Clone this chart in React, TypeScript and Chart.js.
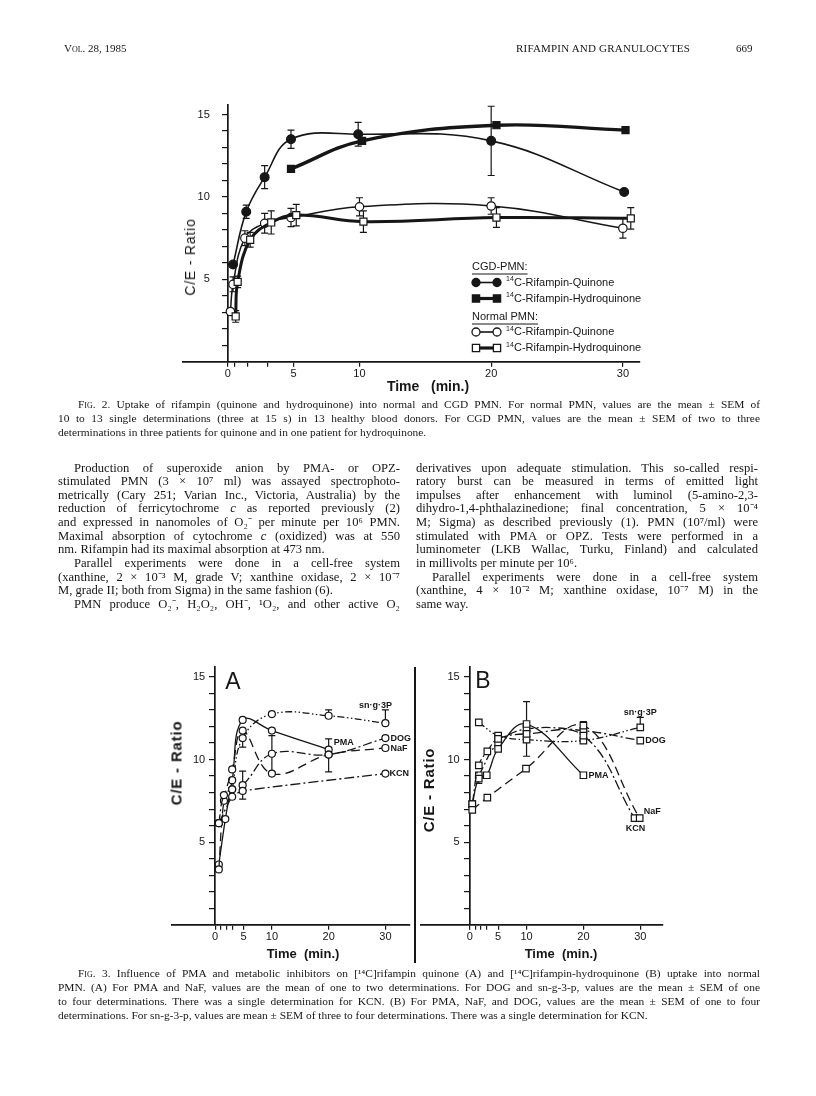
import React, { useEffect, useRef } from 'react';
import { Chart, registerables } from 'chart.js';
Chart.register(...registerables);

const INK = '#161616';
const SANS = '"Liberation Sans", Arial, sans-serif';
const SERIF = '"Liberation Serif", "Times New Roman", serif';

// ---------------- FIG. 2 data ----------------
const F2_CGD_Q_T = [0.4, 1.4, 2.8, 4.8, 9.9, 20, 30.1];
const F2_CGD_Q_V = [5.9, 9.1, 11.2, 13.5, 13.8, 13.4, 10.3];
const F2_CGD_Q_E = [0, 0.4, 0.7, 0.55, 0.72, 2.1, 0];
const F2_CGD_H_T = [4.8, 10.2, 20.4, 30.2];
const F2_CGD_H_V = [11.7, 13.4, 14.35, 14.05];
const F2_NOR_Q_T = [0.2, 0.4, 1.3, 2.8, 4.8, 10, 20, 30];
const F2_NOR_Q_V = [3.05, 4.7, 7.5, 8.4, 8.75, 9.4, 9.45, 8.1];
const F2_NOR_Q_E = [0, 0.45, 0.45, 0.6, 0.55, 0.55, 0.5, 0.6];
const F2_NOR_H_T = [0.6, 0.75, 1.7, 3.3, 5.2, 10.3, 20.4, 30.6];
const F2_NOR_H_V = [2.75, 4.85, 7.4, 8.45, 8.9, 8.5, 8.75, 8.7];
const F2_NOR_H_E = [0.35, 0.35, 0.45, 0.7, 0.65, 0.65, 0.6, 0.65];

const F2_X_TICKS = [0, 0.5, 1.5, 3, 5, 10, 20, 30];
const F3_X_TICKS = [0, 1, 2, 3, 5, 10, 20, 30];
const X_LABELED = [0, 5, 10, 20, 30];
const Y_TICKS = [1, 2, 3, 4, 5, 6, 7, 8, 9, 10, 11, 12, 13, 14, 15];
const Y_LABELED = [5, 10, 15];

// ---------------- FIG. 3A data (quinone) ----------------
const A_PMA_T = [0.65, 1.8, 3.0, 4.85, 10, 20];
const A_PMA_V = [3.65, 6.4, 8.75, 12.4, 11.75, 10.6];
const A_PMA_E: any[] = [0, 0, 0, 0, 0, [0, 0.65]];
const A_NAF_T = [0.65, 1.55, 3.0, 4.85, 10, 20, 30];
const A_NAF_V = [3.35, 7.5, 9.4, 11.75, 9.15, 10.3, 10.7];
const A_DOG_T = [0.65, 1.55, 3.0, 4.85, 10, 20, 30];
const A_DOG_V = [6.15, 7.85, 8.2, 8.45, 10.35, 10.3, 11.3];
const A_DOG_E: any[] = [0, 0, 0, 0.85, 1.1, [1.05, 0], 0];
const A_KCN_T = [0.65, 3.0, 4.85, 30];
const A_KCN_V = [6.15, 7.75, 8.1, 9.15];
const A_SN_T = [3.0, 4.85, 10, 20, 30];
const A_SN_V = [8.2, 11.3, 12.75, 12.65, 12.2];
const A_SN_E: any[] = [0, [0.55, 0], 0, [0, 0.35], [0, 0.8]];

// ---------------- FIG. 3B data (hydroquinone) ----------------
const B_PMA_T = [0.45, 1.6, 3.0, 5, 10, 20];
const B_PMA_V = [7.3, 8.85, 9.05, 10.65, 12.15, 9.05];
const B_PMA_E: any[] = [0, [0.3, 0], 0, 0, 0, 0];
const B_NAF_T = [0.45, 3.1, 9.9, 20, 29.9];
const B_NAF_V = [6.95, 7.7, 9.45, 12.05, 6.45];
const B_KCN_T = [0.45, 1.6, 3.1, 5, 10, 20, 29];
const B_KCN_V = [7.3, 9.65, 10.5, 11.25, 11.55, 11.45, 6.45];
const B_DOG_T = [1.6, 5, 10, 20, 30];
const B_DOG_V = [9.05, 11.0, 11.85, 11.75, 11.15];
const B_DOG_E: any[] = [0, 0, 1.65, 0.55, 0];
const B_SN_T = [1.6, 5, 10, 20, 30];
const B_SN_V = [12.25, 11.45, 11.2, 11.15, 11.95];
const B_SN_E: any[] = [0, 0, 0, 0, [0, 0.6]];

// ---------------- text ----------------
const FIG2_CAPTION = [
  'Fig. 2. Uptake of rifampin (quinone and hydroquinone) into normal and CGD PMN. For normal PMN, values are the mean ± SEM of',
  '10 to 13 single determinations (three at 15 s) in 13 healthy blood donors. For CGD PMN, values are the mean ± SEM of two to three',
  '.determinations in three patients for quinone and in one patient for hydroquinone.',
];
const LEFT_COL = [
  '>Production of superoxide anion by PMA- or OPZ-',
  'stimulated PMN (3 × 10⁷ ml) was assayed spectrophoto-',
  'metrically (Cary 251; Varian Inc., Victoria, Australia) by the',
  'reduction of ferricytochrome _c_ as reported previously (2)',
  'and expressed in nanomoles of O₂⁻ per minute per 10⁶ PMN.',
  'Maximal absorption of cytochrome _c_ (oxidized) was at 550',
  '.nm. Rifampin had its maximal absorption at 473 nm.',
  '>Parallel experiments were done in a cell-free system',
  '(xanthine, 2 × 10⁻³ M, grade V; xanthine oxidase, 2 × 10⁻⁷',
  '.M, grade II; both from Sigma) in the same fashion (6).',
  '>PMN produce O₂⁻, H₂O₂, OH⁻, ¹O₂, and other active O₂',
];
const RIGHT_COL = [
  'derivatives upon adequate stimulation. This so-called respi-',
  'ratory burst can be measured in terms of emitted light',
  'impulses after enhancement with luminol (5-amino-2,3-',
  'dihydro-1,4-phthalazinedione; final concentration, 5 × 10⁻⁴',
  'M; Sigma) as described previously (1). PMN (10⁷/ml) were',
  'stimulated with PMA or OPZ. Tests were performed in a',
  'luminometer (LKB Wallac, Turku, Finland) and calculated',
  '.in millivolts per minute per 10⁶.',
  '>Parallel experiments were done in a cell-free system',
  '(xanthine, 4 × 10⁻² M; xanthine oxidase, 10⁻⁷ M) in the',
  '.same way.',
];
const FIG3_CAPTION = [
  'Fig. 3. Influence of PMA and metabolic inhibitors on [¹⁴C]rifampin quinone (A) and [¹⁴C]rifampin-hydroquinone (B) uptake into normal',
  'PMN. (A) For PMA and NaF, values are the mean of one to two determinations. For DOG and sn-g-3-p, values are the mean ± SEM of one',
  'to four determinations. There was a single determination for KCN. (B) For PMA, NaF, and DOG, values are the mean ± SEM of one to four',
  '.determinations. For sn-g-3-p, values are mean ± SEM of three to four determinations. There was a single determination for KCN.',
];

// ---------------- plugins ----------------
const errPlugin = {
  id: 'errbars',
  beforeDatasetsDraw(chart: any) {
    const { ctx } = chart;
    const x = chart.scales.x, y = chart.scales.y;
    ctx.save();
    ctx.strokeStyle = INK;
    ctx.lineWidth = 1.2;
    chart.data.datasets.forEach((ds: any) => {
      if (!ds.errors) return;
      ds.data.forEach((p: any, i: number) => {
        const e = ds.errors[i];
        if (!e) return;
        const dn = Array.isArray(e) ? e[0] : e;
        const up = Array.isArray(e) ? e[1] : e;
        const px = x.getPixelForValue(p.x);
        const yt = y.getPixelForValue(p.y + up);
        const yb = y.getPixelForValue(p.y - dn);
        ctx.beginPath();
        ctx.moveTo(px, yt);
        ctx.lineTo(px, yb);
        if (up > 0) { ctx.moveTo(px - 3.5, yt); ctx.lineTo(px + 3.5, yt); }
        if (dn > 0) { ctx.moveTo(px - 3.5, yb); ctx.lineTo(px + 3.5, yb); }
        ctx.stroke();
      });
    });
    ctx.restore();
  },
};

const endLabelPlugin = {
  id: 'endlabels',
  afterDatasetsDraw(chart: any) {
    const { ctx } = chart;
    const x = chart.scales.x, y = chart.scales.y;
    chart.data.datasets.forEach((ds: any) => {
      const L = ds.endLabel;
      if (!L) return;
      const p = ds.data[ds.data.length - 1];
      ctx.save();
      ctx.font = `bold 9px ${SANS}`;
      ctx.fillStyle = INK;
      ctx.textAlign = L.align;
      ctx.textBaseline = 'middle';
      ctx.fillText(L.text, x.getPixelForValue(p.x) + L.dx, y.getPixelForValue(p.y) + L.dy);
      ctx.restore();
    });
  },
};

// y tick labels, drawn left of the y axis (which sits at x = 0)
function yLabelPlugin(gap: number) {
  return {
    id: 'ylabels',
    afterDraw(chart: any) {
      const { ctx } = chart;
      const x = chart.scales.x, y = chart.scales.y;
      const px = x.getPixelForValue(0) - gap;
      ctx.save();
      ctx.font = `11px ${SANS}`;
      ctx.fillStyle = INK;
      ctx.textAlign = 'right';
      ctx.textBaseline = 'middle';
      Y_LABELED.forEach((v) => ctx.fillText(String(v), px, y.getPixelForValue(v)));
      ctx.restore();
    },
  };
}

function drawMarker(ctx: any, kind: string, x: number, y: number) {
  ctx.beginPath();
  if (kind.includes('circle')) ctx.arc(x, y, 4, 0, Math.PI * 2);
  else ctx.rect(x - 3.6, y - 3.6, 7.2, 7.2);
  ctx.fillStyle = kind.startsWith('filled') ? INK : '#fff';
  ctx.fill();
  ctx.lineWidth = 1.3;
  ctx.strokeStyle = INK;
  ctx.stroke();
}

const F2_LEGEND = [
  { head: 'CGD-PMN:' },
  { kind: 'filled-circle', width: 1.6, text: 'C-Rifampin-Quinone' },
  { kind: 'filled-rect', width: 3.2, text: 'C-Rifampin-Hydroquinone' },
  { head: 'Normal PMN:' },
  { kind: 'open-circle', width: 1.6, text: 'C-Rifampin-Quinone' },
  { kind: 'open-rect', width: 3.2, text: 'C-Rifampin-Hydroquinone' },
];
const F2_LEGEND_ROWS = [0, 15.5, 31.5, 50, 65, 81];

function legendPlugin(ox: number, oy: number) {
  return {
    id: 'f2legend',
    afterDraw(chart: any) {
      const { ctx } = chart;
      ctx.save();
      ctx.textBaseline = 'middle';
      F2_LEGEND.forEach((it: any, i: number) => {
        const y = oy + F2_LEGEND_ROWS[i];
        if (it.head) {
          ctx.font = `11px ${SANS}`;
          ctx.fillStyle = INK;
          ctx.textAlign = 'left';
          ctx.fillText(it.head, ox, y);
          const w = ctx.measureText(it.head).width;
          ctx.beginPath();
          ctx.lineWidth = 1;
          ctx.strokeStyle = INK;
          ctx.moveTo(ox, y + 7);
          ctx.lineTo(ox + w, y + 7);
          ctx.stroke();
        } else {
          const x0 = ox + 4, x1 = ox + 25;
          ctx.beginPath();
          ctx.lineWidth = it.width;
          ctx.strokeStyle = INK;
          ctx.moveTo(x0, y);
          ctx.lineTo(x1, y);
          ctx.stroke();
          drawMarker(ctx, it.kind, x0, y);
          drawMarker(ctx, it.kind, x1, y);
          ctx.fillStyle = INK;
          ctx.textAlign = 'left';
          ctx.font = `7px ${SANS}`;
          ctx.fillText('14', ox + 34, y - 3);
          ctx.font = `11px ${SANS}`;
          ctx.fillText(it.text, ox + 42, y);
        }
      });
      ctx.restore();
    },
  };
}

// ---------------- helpers ----------------
function series(T: number[], V: number[], opts: any) {
  return {
    data: T.map((t, i) => ({ x: t, y: V[i] })),
    fill: false,
    tension: 0.4,
    borderColor: INK,
    pointBorderColor: INK,
    pointBorderWidth: 1.2,
    pointBackgroundColor: '#fff',
    ...opts,
  };
}

function makeOptions(xmin: number, xmax: number, xTicks: number[], pad: any) {
  return {
    animation: false,
    responsive: false,
    maintainAspectRatio: false,
    events: [],
    layout: { padding: pad },
    plugins: { legend: { display: false }, tooltip: { enabled: false } },
    scales: {
      x: {
        type: 'linear',
        min: xmin,
        max: xmax,
        position: 'bottom',
        afterBuildTicks: (s: any) => { s.ticks = xTicks.map((v) => ({ value: v })); },
        ticks: {
          autoSkip: false,
          maxRotation: 0,
          padding: 1,
          color: INK,
          font: { family: SANS, size: 11 },
          callback: (v: any) => (X_LABELED.includes(v) ? String(v) : ''),
        },
        grid: { drawOnChartArea: false, drawTicks: true, tickLength: 5, color: INK, lineWidth: 1.2 },
        border: { display: true, color: INK, width: 1.7 },
      },
      y: {
        type: 'linear',
        min: 0,
        max: 15.6,
        position: { x: 0 },
        afterBuildTicks: (s: any) => { s.ticks = Y_TICKS.map((v) => ({ value: v })); },
        ticks: {
          autoSkip: false,
          padding: 0,
          color: INK,
          font: { family: SANS, size: 11 },
          callback: () => '',
        },
        grid: { drawOnChartArea: false, drawTicks: true, tickLength: 5, color: INK, lineWidth: 1.2 },
        border: { display: true, color: INK, width: 1.7 },
      },
    },
  };
}

const F2_BOX = { left: 170, top: 98, width: 480, height: 284 };
const A_BOX = { left: 150, top: 655, width: 265, height: 290 };
const B_BOX = { left: 415, top: 655, width: 265, height: 290 };

function fig2Config() {
  return {
    type: 'line',
    data: {
      datasets: [
        series(F2_NOR_H_T, F2_NOR_H_V, { borderWidth: 3, pointStyle: 'rect', pointRadius: 5, errors: F2_NOR_H_E }),
        series(F2_NOR_Q_T, F2_NOR_Q_V, { borderWidth: 1.5, pointStyle: 'circle', pointRadius: 4.2, errors: F2_NOR_Q_E }),
        series(F2_CGD_H_T, F2_CGD_H_V, { borderWidth: 3.4, pointStyle: 'rect', pointRadius: 5, pointBackgroundColor: INK }),
        series(F2_CGD_Q_T, F2_CGD_Q_V, { borderWidth: 1.6, pointStyle: 'circle', pointRadius: 4.4, pointBackgroundColor: INK, errors: F2_CGD_Q_E }),
      ],
    },
    options: makeOptions(-3.4, 31.3, F2_X_TICKS, { left: 13, right: 10, top: 5, bottom: 0 }),
    plugins: [errPlugin, yLabelPlugin(18), legendPlugin(472 - F2_BOX.left, 267 - F2_BOX.top)],
  };
}

const LS = {
  PMA: [] as number[],
  NAF: [9, 5],
  DOG: [9, 3, 2, 3],
  KCN: [10, 3, 2, 3],
  SN: [7, 2.5, 1.5, 2.5, 1.5, 2.5],
};

function fig3AConfig() {
  const c = { borderWidth: 1.3, pointStyle: 'circle', pointRadius: 3.5 };
  return {
    type: 'line',
    data: {
      datasets: [
        series(A_KCN_T, A_KCN_V, { ...c, borderDash: LS.KCN, tension: 0.2, endLabel: { text: 'KCN', dx: 4, dy: 0, align: 'left' } }),
        series(A_DOG_T, A_DOG_V, { ...c, borderDash: LS.DOG, errors: A_DOG_E, endLabel: { text: 'DOG', dx: 5, dy: 0, align: 'left' } }),
        series(A_NAF_T, A_NAF_V, { ...c, borderDash: LS.NAF, endLabel: { text: 'NaF', dx: 5, dy: 1, align: 'left' } }),
        series(A_PMA_T, A_PMA_V, { ...c, borderDash: LS.PMA, errors: A_PMA_E, endLabel: { text: 'PMA', dx: 5, dy: -7, align: 'left' } }),
        series(A_SN_T, A_SN_V, { ...c, borderDash: LS.SN, errors: A_SN_E, endLabel: { text: 'sn·g·3P', dx: -10, dy: -18, align: 'center' } }),
      ],
    },
    options: makeOptions(-7.6, 34.3, F3_X_TICKS, { left: 22, right: 0, top: 12, bottom: 0 }),
    plugins: [errPlugin, endLabelPlugin, yLabelPlugin(10)],
  };
}

function fig3BConfig() {
  const c = { borderWidth: 1.3, pointStyle: 'rect', pointRadius: 4.6 };
  return {
    type: 'line',
    data: {
      datasets: [
        series(B_NAF_T, B_NAF_V, { ...c, borderDash: LS.NAF, endLabel: { text: 'NaF', dx: 4, dy: -7, align: 'left' } }),
        series(B_KCN_T, B_KCN_V, { ...c, borderDash: LS.KCN, endLabel: { text: 'KCN', dx: 1, dy: 10, align: 'center' } }),
        series(B_PMA_T, B_PMA_V, { ...c, borderDash: LS.PMA, errors: B_PMA_E, endLabel: { text: 'PMA', dx: 5, dy: 0, align: 'left' } }),
        series(B_DOG_T, B_DOG_V, { ...c, borderDash: LS.DOG, errors: B_DOG_E, endLabel: { text: 'DOG', dx: 5, dy: 0, align: 'left' } }),
        series(B_SN_T, B_SN_V, { ...c, borderDash: LS.SN, errors: B_SN_E, endLabel: { text: 'sn·g·3P', dx: 0, dy: -15, align: 'center' } }),
      ],
    },
    options: makeOptions(-8.6, 34, F3_X_TICKS, { left: 0, right: 17, top: 12, bottom: 0 }),
    plugins: [errPlugin, endLabelPlugin, yLabelPlugin(10)],
  };
}

function ChartBox({ box, make }: { box: any; make: () => any }) {
  const ref = useRef<HTMLCanvasElement>(null);
  useEffect(() => {
    const chart = new Chart(ref.current as HTMLCanvasElement, make());
    return () => chart.destroy();
  }, []);
  return (
    <div style={{ position: 'absolute', left: box.left, top: box.top, width: box.width, height: box.height }}>
      <canvas ref={ref} width={box.width} height={box.height} style={{ width: box.width, height: box.height, display: 'block' }} />
    </div>
  );
}

// ---------------- text helpers ----------------
function renderInline(s: string) {
  const parts: any[] = [];
  let rest = s;
  if (rest.startsWith('Fig.')) {
    parts.push(<span key="f" style={{ fontVariant: 'small-caps' }}>Fig.</span>);
    rest = rest.slice(4);
  }
  rest.split('_').forEach((seg, i) => parts.push(i % 2 ? <i key={i}>{seg}</i> : <span key={i}>{seg}</span>));
  return parts;
}

function TextLines({ lines, left, width, top, lh, size, indent }: any) {
  return (
    <>
      {lines.map((raw: string, i: number) => {
        let s = raw;
        let ind = 0;
        let last = false;
        if (s.startsWith('>')) { ind = indent; s = s.slice(1); }
        if (s.startsWith('.')) { last = true; s = s.slice(1); }
        if (s.startsWith('Fig.')) ind = indent;
        return (
          <div
            key={i}
            style={{
              position: 'absolute',
              left: left + ind,
              top: top + i * lh,
              width: width - ind,
              height: lh,
              lineHeight: `${lh}px`,
              fontFamily: SERIF,
              fontSize: size,
              color: INK,
              whiteSpace: 'nowrap',
              textAlign: last ? 'left' : 'justify',
              textAlignLast: last ? 'left' : 'justify',
            } as any}
          >
            {renderInline(s)}
          </div>
        );
      })}
    </>
  );
}

function Label({ x, y, text, size, rotate, weight, spacing, family }: any) {
  return (
    <div
      style={{
        position: 'absolute',
        left: x,
        top: y,
        transform: `translate(-50%, -50%)${rotate ? ' rotate(-90deg)' : ''}`,
        whiteSpace: 'pre',
        fontFamily: family || SANS,
        fontSize: size,
        fontWeight: weight || 'normal',
        letterSpacing: spacing || 0,
        color: INK,
        lineHeight: 1,
      }}
    >
      {text}
    </div>
  );
}

export default function App() {
  return (
    <div style={{ position: 'relative', width: 800, height: 1080, background: '#fff' }}>
      {/* header */}
      <div style={{ position: 'fixed', left: 64, top: 42, fontFamily: SERIF, fontSize: 11, color: INK }}>
        <span style={{ fontVariant: 'small-caps' }}>Vol.</span> 28, 1985
      </div>
      <div style={{ position: 'fixed', left: 516, top: 42, fontFamily: SERIF, fontSize: 11, color: INK, letterSpacing: 0.2 }}>
        RIFAMPIN AND GRANULOCYTES
      </div>
      <div style={{ position: 'fixed', left: 736, top: 42, fontFamily: SERIF, fontSize: 11, color: INK }}>669</div>

      <div style={{ position: 'fixed', left: 0, top: 0 }}>
        {/* FIG 2 */}
        <ChartBox box={F2_BOX} make={fig2Config} />
        <Label x={190} y={257} text="C/E - Ratio" size={14} rotate spacing={0.8} />
        <Label x={428} y={386} text={'Time   (min.)'} size={14} weight={600} />
        <TextLines lines={FIG2_CAPTION} left={58} width={702} top={397} lh={14} size={11.4} indent={20} />

        <TextLines lines={LEFT_COL} left={58} width={342} top={461.5} lh={13.65} size={12.6} indent={16} />
        <TextLines lines={RIGHT_COL} left={416} width={342} top={461.5} lh={13.65} size={12.6} indent={16} />

        {/* FIG 3 */}
        <ChartBox box={A_BOX} make={fig3AConfig} />
        <ChartBox box={B_BOX} make={fig3BConfig} />
        <div style={{ position: 'absolute', left: 414, top: 667, width: 1.7, height: 296, background: INK }} />
        <Label x={233} y={681} text="A" size={23} />
        <Label x={483} y={680} text="B" size={23} />
        <Label x={176} y={763} text="C/E - Ratio" size={15} rotate spacing={0.8} weight={600} />
        <Label x={428} y={790} text="C/E - Ratio" size={15} rotate spacing={0.8} weight={600} />
        <Label x={303} y={953} text="Time  (min.)" size={13} weight={600} />
        <Label x={561} y={953} text="Time  (min.)" size={13} weight={600} />
        <TextLines lines={FIG3_CAPTION} left={58} width={702} top={966} lh={14} size={11.4} indent={20} />
      </div>
    </div>
  );
}
